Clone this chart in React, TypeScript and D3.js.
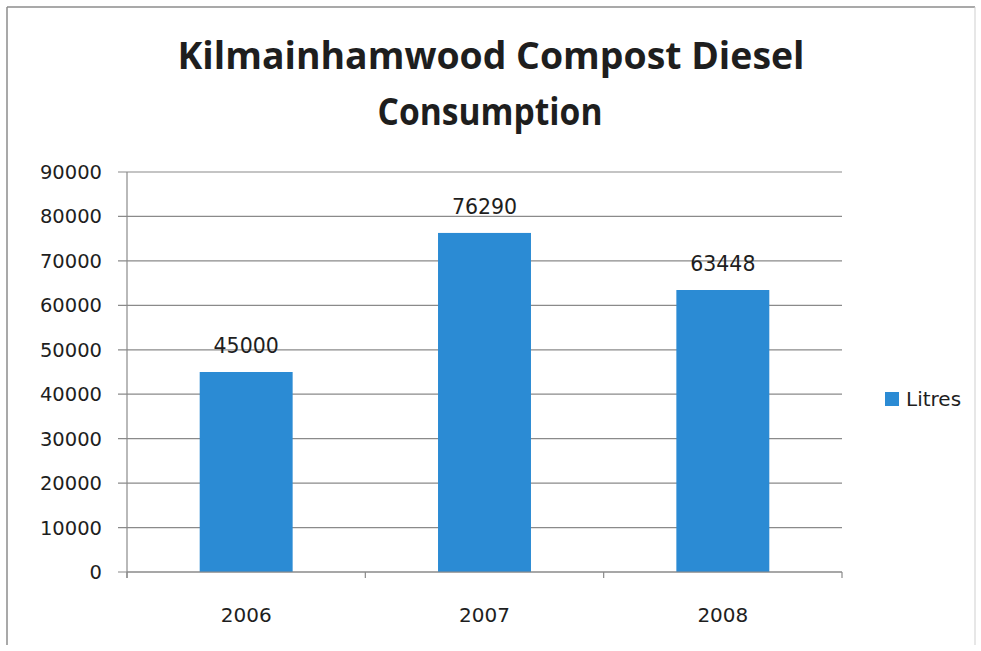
import React from "react";
import * as d3 from "d3";

const categories: string[] = ["2006", "2007", "2008"];
const litres: number[] = [45000, 76290, 63448];
const yTicks: number[] = [0, 10000, 20000, 30000, 40000, 50000, 60000, 70000, 80000, 90000];
const seriesName = "Litres";
const titleLines: string[] = ["Kilmainhamwood Compost Diesel", "Consumption"];

const W = 981;
const H = 651;
const BAR = "#2b8bd4";
const GRID = "#8a8a8a";
const TEXT = "#1e1e1e";
const FONT = "'DejaVu Sans', sans-serif";

export default function App() {
  const left = 127;
  const right = 842;
  const top = 172;
  const bottom = 572;

  const y = d3.scaleLinear().domain([0, 90000]).range([bottom, top]);
  const x = d3
    .scaleBand<string>()
    .domain(categories)
    .range([left, right])
    .paddingInner(0.61)
    .paddingOuter(0.305);

  const step = x.step();
  const boundaries = d3.range(categories.length + 1).map((i) => left + i * step);

  return (
    <svg
      width={W}
      height={H}
      viewBox={`0 0 ${W} ${H}`}
      style={{ position: "absolute", left: 0, top: 0, background: "#fff" }}
    >
      <rect x={0} y={0} width={W} height={H} fill="#fff" />
      {/* outer border */}
      <line x1={7} y1={7} x2={975} y2={7} stroke="#8c8c8c" strokeWidth={1.5} />
      <line x1={7} y1={7} x2={7} y2={645} stroke="#8c8c8c" strokeWidth={1.5} />
      <line x1={975} y1={7} x2={975} y2={645} stroke="#cfcfcf" strokeWidth={1} />

      {/* title */}
      <text
        x={491}
        y={69}
        textAnchor="middle"
        fontFamily="'Open Sans', sans-serif"
        fontWeight={700}
        fontSize={38}
        fill={TEXT}
        textLength={627}
        lengthAdjust="spacingAndGlyphs"
      >
        {titleLines[0]}
      </text>
      <text
        x={490}
        y={125}
        textAnchor="middle"
        fontFamily="'Open Sans', sans-serif"
        fontWeight={700}
        fontSize={38}
        fill={TEXT}
        textLength={225}
        lengthAdjust="spacingAndGlyphs"
      >
        {titleLines[1]}
      </text>

      {/* gridlines + y ticks */}
      {yTicks.map((t) => (
        <g key={t}>
          <line x1={118} x2={right} y1={y(t)} y2={y(t)} stroke={GRID} strokeWidth={1.2} />
          <text
            x={102}
            y={y(t)}
            dy="0.36em"
            textAnchor="end"
            fontFamily={FONT}
            fontSize={19.5}
            fill={TEXT}
          >
            {t}
          </text>
        </g>
      ))}

      {/* y axis */}
      <line x1={left} x2={left} y1={top} y2={bottom + 6} stroke={GRID} strokeWidth={1.2} />

      {/* bars */}
      {categories.map((c, i) => (
        <rect
          key={c}
          x={x(c)}
          y={y(litres[i])}
          width={x.bandwidth()}
          height={y(0) - y(litres[i])}
          fill={BAR}
        />
      ))}

      {/* x axis */}
      <line x1={left} x2={right} y1={bottom} y2={bottom} stroke={GRID} strokeWidth={1.2} />
      {boundaries.map((b, i) => (
        <line key={i} x1={b} x2={b} y1={bottom} y2={bottom + 6} stroke={GRID} strokeWidth={1.2} />
      ))}

      {/* data labels */}
      {categories.map((c, i) => (
        <text
          key={c}
          x={(x(c) as number) + x.bandwidth() / 2}
          y={y(litres[i]) - 19}
          textAnchor="middle"
          fontFamily={FONT}
          fontSize={20.5}
          fill={TEXT}
        >
          {litres[i]}
        </text>
      ))}

      {/* x labels */}
      {categories.map((c) => (
        <text
          key={c}
          x={(x(c) as number) + x.bandwidth() / 2}
          y={622}
          textAnchor="middle"
          fontFamily={FONT}
          fontSize={20}
          fill={TEXT}
        >
          {c}
        </text>
      ))}

      {/* legend */}
      <rect x={885} y={392} width={14} height={14} fill={BAR} />
      <text x={906} y={405.5} fontFamily={FONT} fontSize={20} fill={TEXT}>
        {seriesName}
      </text>
    </svg>
  );
}
